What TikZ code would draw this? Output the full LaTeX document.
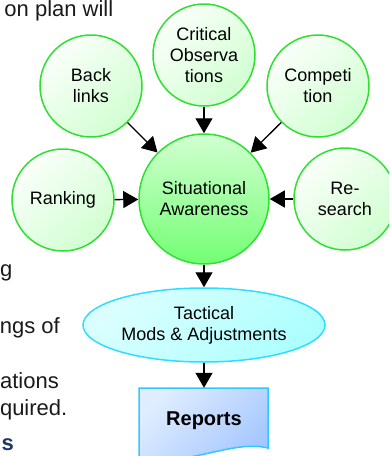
\documentclass[tikz,border=0pt]{standalone}
\usepackage{fontspec}
\setmainfont{Liberation Sans}
\usepackage{xcolor}
\usetikzlibrary{shapes, positioning, arrows.meta}

\definecolor{ringgreen}{HTML}{30E030}
\definecolor{ringcyan}{HTML}{30DDFF}
\definecolor{docblue}{HTML}{30C8FF}
\definecolor{doclight}{HTML}{E0EDFF}
\definecolor{docdark}{HTML}{A6C8FF}
\definecolor{slidetext}{HTML}{1A1A1A}
\definecolor{headblue}{HTML}{1F3864}

\begin{document}
\begin{tikzpicture}[x=1pt, y=-1pt,
    bubble/.style={circle, draw=ringgreen, line width=1.5pt, minimum size=102pt,
      inner sep=0pt, align=center, top color=green!2!white,
      bottom color=green!18!white, shading angle=45,
      font=\fontsize{18}{21}\selectfont},
    hub/.style={bubble, minimum size=130pt, top color=green!18!white,
      bottom color=green!55!white},
    flow/.style={-{Triangle[length=15pt, width=17pt]}, line width=1.3pt},
    slide/.style={anchor=base east, inner sep=0pt, text=slidetext,
      font=\fontsize{22}{26}\selectfont}]

        % Page window (the slide is cut off at the edges)
        \clip (0,0) rectangle (389,456);

        % Slide text behind the diagram
        \node[slide] (LineA) at (113.5,16) {on plan will};
        \node[slide] (LineB) at (12.5,276) {g};
        \node[slide] (LineC) at (60,333) {ngs of};
        \node[slide] (LineD) at (59,388) {ations};
        \node[slide] (LineE) at (67.5,415) {quired.};
        \node[slide, text=headblue, font=\fontsize{22}{26}\selectfont\bfseries] (LineF) at (14,450) {s};

        % Inputs around the hub
        \node[bubble] (BackLinks) at (91,86) {Back\\links};
        \node[bubble] (Critical) at (204,55) {Critical\\Observa\\tions};
        \node[bubble] (Competition) at (318,86) {Competi\\tion};
        \node[bubble] (Ranking) at (63,200) {Ranking};
        \node[bubble] (Research) at (345,199) {Re-\\search};

        \node[hub] (Situation) at (204,199) {Situational\\Awareness};

        \node[ellipse, draw=ringcyan, line width=1.5pt, minimum width=242pt,
          minimum height=74pt, inner sep=0pt, align=center,
          top color=cyan!14!white, bottom color=cyan!32!white, shading angle=45,
          font=\fontsize{18}{21}\selectfont] (Tactical) at (204,325)
          {Tactical\\Mods \& Adjustments};

        % Document shape for the reports
        \draw[draw=docblue, line width=1.5pt, top color=doclight,
          bottom color=docdark, shading angle=45]
          (139,388) -- (268,388) -- (268,448)
          .. controls (235,440) and (200,462) .. (139,462) -- cycle;
        \node[minimum width=129pt, minimum height=66pt, inner sep=0pt,
          font=\fontsize{20}{24}\selectfont\bfseries] (Reports) at (204,421) {Reports};

        \draw[flow] (BackLinks) -- (Situation);
        \draw[flow] (Critical) -- (Situation);
        \draw[flow] (Competition) -- (Situation);
        \draw[flow] (Ranking) -- (Situation);
        \draw[flow] (Research) -- (Situation);
        \draw[flow] (Situation) -- (Tactical);
        \draw[flow] (Tactical) -- (Reports.north);

      \end{tikzpicture}
\end{document}
